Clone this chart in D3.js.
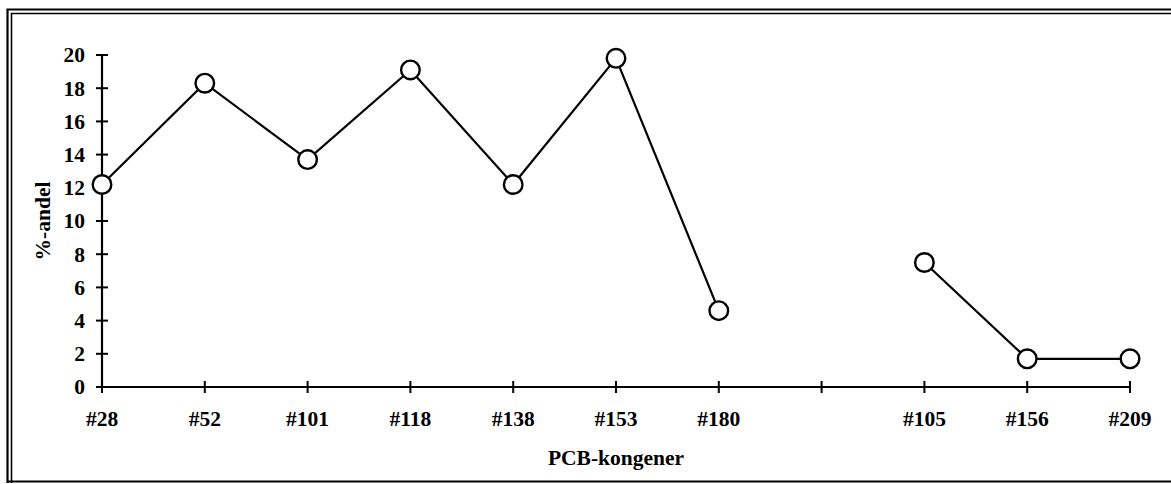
<!DOCTYPE html>
<html><head><meta charset="utf-8">
<script src="https://cdn.jsdelivr.net/npm/d3@7"></script>
<style>
html,body{margin:0;padding:0;background:#fff;}
svg{display:block;}
text{font-family:"Liberation Serif","Times New Roman",serif;font-weight:bold;fill:#000;}
</style></head>
<body>
<svg id="c" width="1171" height="484"></svg>
<script>
const categories = ["#28","#52","#101","#118","#138","#153","#180","","#105","#156","#209"];
const values = [12.2,18.3,13.7,19.1,12.2,19.8,4.6,null,7.5,1.7,1.7];
const yTicks = [0,2,4,6,8,10,12,14,16,18,20];

(function(){
const svg = d3.select("#c");
const mL = 102, mR = 1130, mT = 55, mB = 387;
const fs = 21.5;

// frame (double line left/top)
svg.append("path").attr("d", `M7.5,483 V9.5 H1180`).attr("fill","none").attr("stroke","#000").attr("stroke-width",2.2);
svg.append("path").attr("d", `M11.5,483 V13.5 H1180`).attr("fill","none").attr("stroke","#000").attr("stroke-width",1.6);
svg.append("line").attr("x1",7).attr("x2",1180).attr("y1",481.5).attr("y2",481.5).attr("stroke","#000").attr("stroke-width",2);

const x = d3.scalePoint().domain(d3.range(categories.length)).range([mL, mR]).padding(0);
const y = d3.scaleLinear().domain([0,20]).range([mB, mT]);

// y axis
const yg = svg.append("g");
yg.append("line").attr("x1",mL).attr("x2",mL).attr("y1",y(0)).attr("y2",y(20)).attr("stroke","#000").attr("stroke-width",2.2);
const t = yg.selectAll("g.yt").data(yTicks).join("g").attr("transform", d=>`translate(0,${y(d)})`);
t.append("line").attr("x1",mL-6).attr("x2",mL+6).attr("stroke","#000").attr("stroke-width",2);
t.append("text").attr("x",mL-17).attr("dy","0.34em").attr("text-anchor","end").attr("font-size",fs).text(d=>d);

// x axis
const xg = svg.append("g");
xg.append("line").attr("x1",mL).attr("x2",mR).attr("y1",y(0)).attr("y2",y(0)).attr("stroke","#000").attr("stroke-width",2.2);
const xt = xg.selectAll("g.xt").data(d3.range(categories.length)).join("g").attr("transform", d=>`translate(${x(d)},${y(0)})`);
xt.append("line").attr("y1",-6).attr("y2",6).attr("stroke","#000").attr("stroke-width",2);
xt.append("text").attr("y",39).attr("text-anchor","middle").attr("font-size",fs).text(d=>categories[d]);

// axis titles
svg.append("text").attr("x", (mL+mR)/2).attr("y", 465).attr("text-anchor","middle").attr("font-size",fs).text("PCB-kongener");
svg.append("text").attr("transform", `translate(50,${(mT+mB)/2}) rotate(-90)`).attr("text-anchor","middle").attr("font-size",fs).text("%-andel");

// line
const pts = values.map((v,i)=>({i,v}));
const line = d3.line().defined(d=>d.v!==null).x(d=>x(d.i)).y(d=>y(d.v));
svg.append("path").datum(pts).attr("d", line).attr("fill","none").attr("stroke","#000").attr("stroke-width",2.2);

svg.selectAll("circle.m").data(pts.filter(d=>d.v!==null)).join("circle")
  .attr("cx", d=>x(d.i)).attr("cy", d=>y(d.v)).attr("r", 9.3)
  .attr("fill","#fff").attr("stroke","#000").attr("stroke-width",2.4);
})();
</script>
</body></html>
